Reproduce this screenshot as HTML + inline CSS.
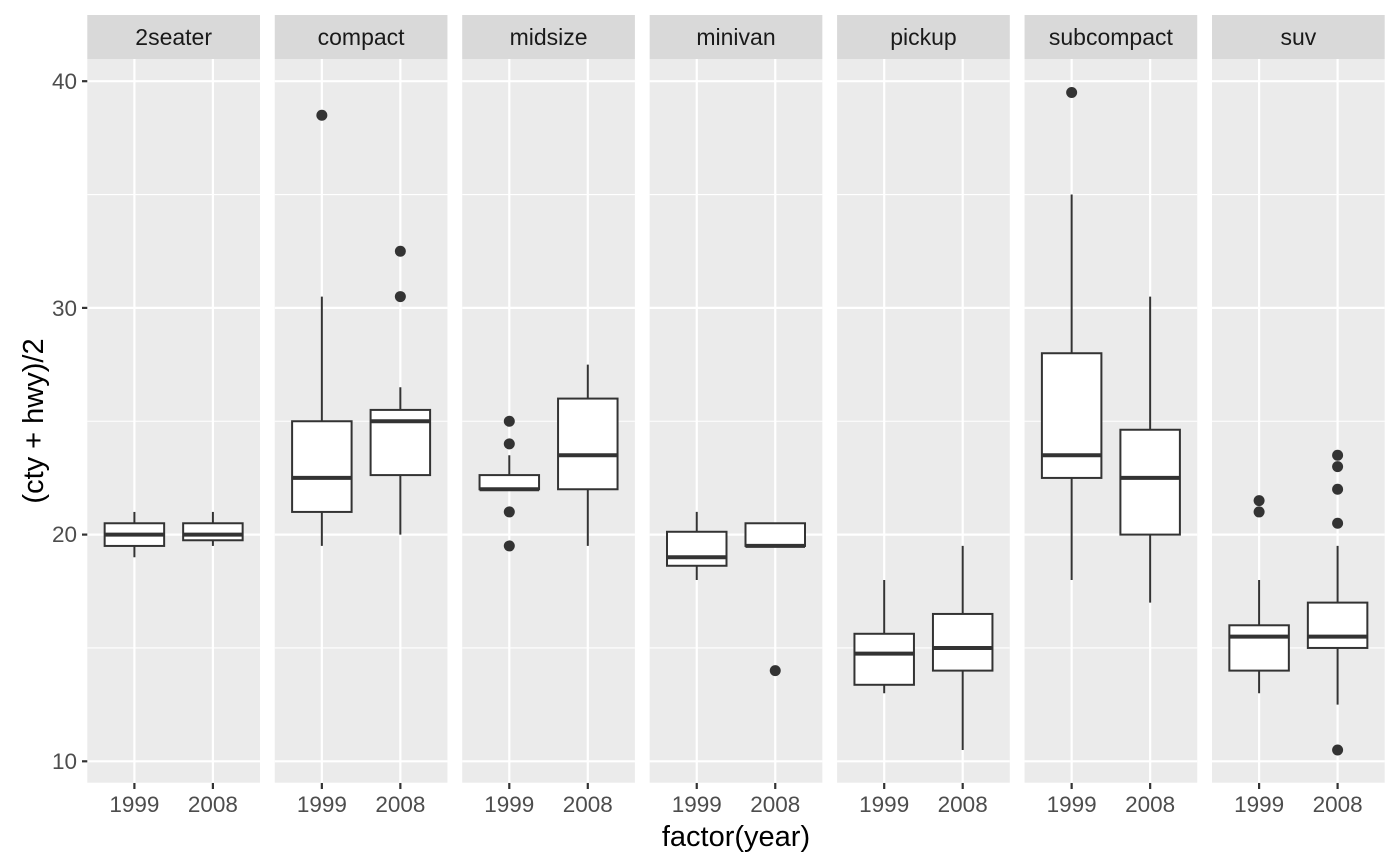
<!DOCTYPE html>
<html><head><meta charset="utf-8"><style>
html,body{margin:0;padding:0;background:#fff;}
svg{display:block;font-family:"Liberation Sans",Arial,sans-serif;}
.tk{font-size:22.5px;fill:#4d4d4d;}
.st{font-size:23px;fill:#1a1a1a;}
.ti{font-size:29px;fill:#000;}
</style></head><body>
<svg id="s" width="1400" height="866" viewBox="0 0 1400 866">
<g id="g"></g>
<g class="tk" text-anchor="end">
<text x="77" y="89">40</text><text x="77" y="316">30</text><text x="77" y="542">20</text><text x="77" y="769">10</text>
</g>
<g class="tk" text-anchor="middle">
<text x="134.4" y="812">1999</text><text x="212.9" y="812">2008</text>
<text x="321.85" y="812">1999</text><text x="400.35" y="812">2008</text>
<text x="509.3" y="812">1999</text><text x="587.8" y="812">2008</text>
<text x="696.75" y="812">1999</text><text x="775.25" y="812">2008</text>
<text x="884.2" y="812">1999</text><text x="962.7" y="812">2008</text>
<text x="1071.65" y="812">1999</text><text x="1150.15" y="812">2008</text>
<text x="1259.1" y="812">1999</text><text x="1337.6" y="812">2008</text>
</g>
<g class="st" text-anchor="middle">
<text x="173.65" y="45">2seater</text><text x="361.1" y="45">compact</text><text x="548.55" y="45">midsize</text><text x="736" y="45">minivan</text><text x="923.45" y="45">pickup</text><text x="1110.9" y="45">subcompact</text><text x="1298.35" y="45">suv</text>
</g>
<text class="ti" x="736" y="846" text-anchor="middle">factor(year)</text>
<text class="ti" x="43" y="421" text-anchor="middle" transform="rotate(-90 43 421)">(cty + hwy)/2</text>
</svg>
<script>
var g=document.getElementById('g'),h='';
function Y(v){return 761.3-(v-10)*22.67;}
var D=[
[[19,19.5,20,20.5,21,[]],[19.5,19.75,20,20.5,21,[]]],
[[19.5,21,22.5,25,30.5,[38.5]],[20,22.625,25,25.5,26.5,[30.5,32.5]]],
[[22,22,22,22.625,23.5,[25,24,21,19.5]],[19.5,22,23.5,26,27.5,[]]],
[[18,18.625,19,20.125,21,[]],[19.5,19.5,19.5,20.5,20.5,[14]]],
[[13,13.375,14.75,15.625,18,[]],[10.5,14,15,16.5,19.5,[]]],
[[18,22.5,23.5,28,35,[39.5]],[17,20,22.5,24.625,30.5,[]]],
[[13,14,15.5,16,18,[21,21.5]],[12.5,15,15.5,17,19.5,[20.5,22,23,23.5,10.5]]]];
for(var i=0;i<7;i++){var x0=87.3+i*187.45,w=172.7;
h+='<rect x="'+x0+'" y="15" width="'+w+'" height="44" fill="#d9d9d9"/>';
h+='<rect x="'+x0+'" y="59" width="'+w+'" height="723.7" fill="#ebebeb"/>';
[15,25,35].forEach(function(v){h+='<line x1="'+x0+'" x2="'+(x0+w)+'" y1="'+Y(v)+'" y2="'+Y(v)+'" stroke="#fff" stroke-width="1.1"/>';});
[10,20,30,40].forEach(function(v){h+='<line x1="'+x0+'" x2="'+(x0+w)+'" y1="'+Y(v)+'" y2="'+Y(v)+'" stroke="#fff" stroke-width="2.2"/>';});
var xs=[x0+47.1,x0+125.6];
xs.forEach(function(x){h+='<line x1="'+x+'" x2="'+x+'" y1="59" y2="782.7" stroke="#fff" stroke-width="2.2"/>';
h+='<line x1="'+x+'" x2="'+x+'" y1="783" y2="789" stroke="#333" stroke-width="2.2"/>';});
for(var j=0;j<2;j++){var d=D[i][j],x=xs[j],bw=59.5;
h+='<line x1="'+x+'" x2="'+x+'" y1="'+Y(d[0])+'" y2="'+Y(d[4])+'" stroke="#333" stroke-width="2"/>';
h+='<rect x="'+(x-bw/2)+'" y="'+Y(d[3])+'" width="'+bw+'" height="'+(Y(d[1])-Y(d[3]))+'" fill="#fff" stroke="#333" stroke-width="2"/>';
h+='<line x1="'+(x-bw/2)+'" x2="'+(x+bw/2)+'" y1="'+Y(d[2])+'" y2="'+Y(d[2])+'" stroke="#333" stroke-width="4"/>';
d[5].forEach(function(o){h+='<circle cx="'+x+'" cy="'+Y(o)+'" r="5.5" fill="#333"/>';});}
}
[10,20,30,40].forEach(function(v){h+='<line x1="82" x2="87.3" y1="'+Y(v)+'" y2="'+Y(v)+'" stroke="#333" stroke-width="2.2"/>';});
g.innerHTML=h;
</script>
</body></html>
